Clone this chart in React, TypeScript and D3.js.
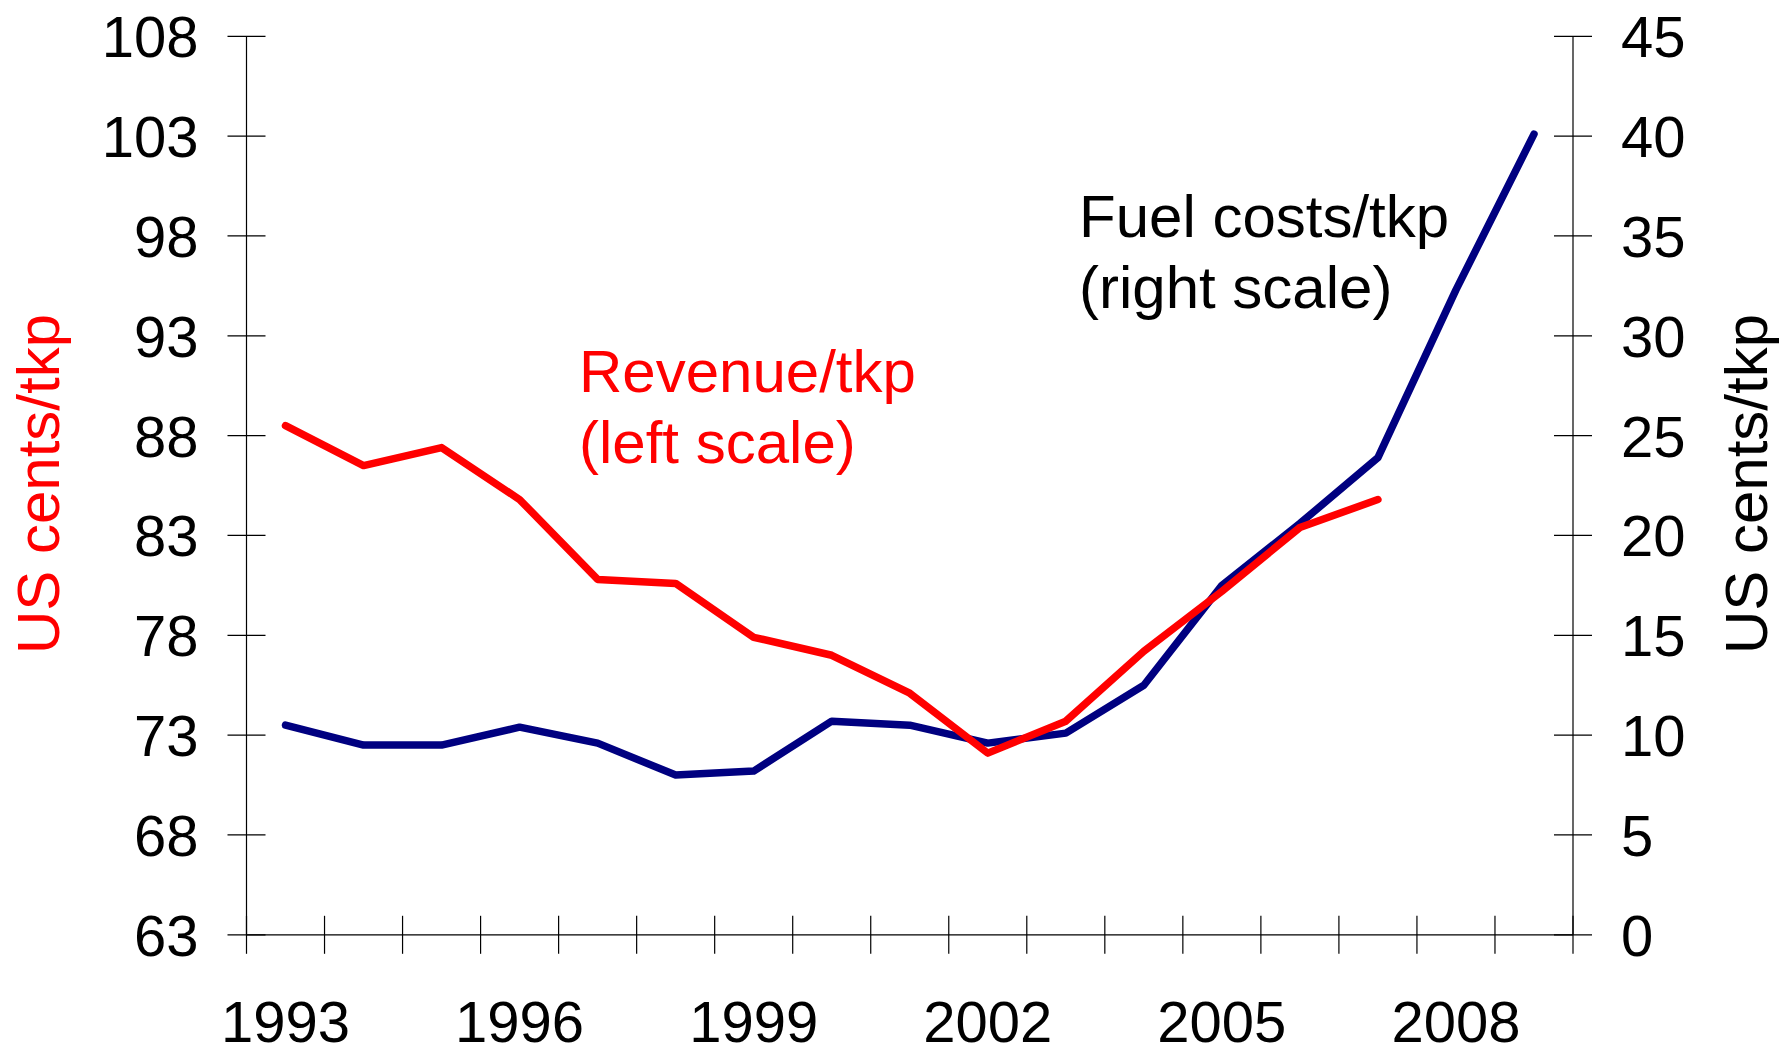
import { useRef, useEffect } from "react";
import * as d3 from "d3";

const years = [
  "1993", "1994", "1995", "1996", "1997", "1998", "1999", "2000", "2001",
  "2002", "2003", "2004", "2005", "2006", "2007", "2008", "2009",
];
const yearLabels = ["1993", "1996", "1999", "2002", "2005", "2008"];

// revenue per tkp, US cents (left scale), 1993-2007
const revenue = [
  88.5, 86.5, 87.4, 84.8, 80.8, 80.6, 77.9, 77.0, 75.1, 72.1, 73.7, 77.2,
  80.2, 83.4, 84.8,
];
// fuel costs per tkp, US cents (right scale), 1993-2009
const fuelCosts = [
  10.5, 9.5, 9.5, 10.4, 9.6, 8.0, 8.2, 10.7, 10.5, 9.6, 10.1, 12.5, 17.5,
  20.6, 23.9, 32.3, 40.1,
];

const leftTicks = [63, 68, 73, 78, 83, 88, 93, 98, 103, 108];
const rightTicks = [0, 5, 10, 15, 20, 25, 30, 35, 40, 45];

const WIDTH = 1781;
const HEIGHT = 1048;
const FONT = "'Liberation Sans', Arial, sans-serif";

const App = () => {
  const svgRef = useRef<SVGSVGElement>(null);

  useEffect(() => {
    document.body.style.margin = "0";

    const svg = d3.select(svgRef.current);
    svg.selectAll("*").remove();

    const left = 246.5;
    const right = 1573;
    const top = 36.3;
    const bottom = 934.8;
    const tick = 19;

    const x = d3.scaleBand().domain(years).range([left, right]).padding(0);
    const yLeft = d3.scaleLinear().domain([63, 108]).range([bottom, top]);
    const yRight = d3.scaleLinear().domain([0, 45]).range([bottom, top]);
    const cx = (d) => x(d) + x.bandwidth() / 2;

    const axes = svg.append("g").attr("stroke", "#000").attr("stroke-width", 1.2);

    // left axis
    axes.append("line").attr("x1", left).attr("x2", left).attr("y1", top).attr("y2", bottom);
    axes
      .selectAll(".tick-l")
      .data(leftTicks)
      .enter()
      .append("line")
      .attr("x1", left - tick)
      .attr("x2", left + tick)
      .attr("y1", (d) => yLeft(d))
      .attr("y2", (d) => yLeft(d));

    // right axis
    axes.append("line").attr("x1", right).attr("x2", right).attr("y1", top).attr("y2", bottom);
    axes
      .selectAll(".tick-r")
      .data(rightTicks)
      .enter()
      .append("line")
      .attr("x1", right - tick)
      .attr("x2", right + tick)
      .attr("y1", (d) => yRight(d))
      .attr("y2", (d) => yRight(d));

    // x axis, ticks on the band edges
    axes.append("line").attr("x1", left).attr("x2", right).attr("y1", bottom).attr("y2", bottom);
    const edges = years.map((d) => x(d)).concat([x.range()[1]]);
    axes
      .selectAll(".tick-x")
      .data(edges)
      .enter()
      .append("line")
      .attr("x1", (d) => d)
      .attr("x2", (d) => d)
      .attr("y1", bottom - tick)
      .attr("y2", bottom + tick);

    const labels = svg.append("g").style("font-family", FONT).style("font-size", "58px").attr("fill", "#000");

    labels
      .selectAll(".lab-l")
      .data(leftTicks)
      .enter()
      .append("text")
      .attr("x", left - tick - 29)
      .attr("y", (d) => yLeft(d))
      .attr("dy", "0.36em")
      .attr("text-anchor", "end")
      .text((d) => d);

    labels
      .selectAll(".lab-r")
      .data(rightTicks)
      .enter()
      .append("text")
      .attr("x", right + tick + 29)
      .attr("y", (d) => yRight(d))
      .attr("dy", "0.36em")
      .attr("text-anchor", "start")
      .text((d) => d);

    labels
      .selectAll(".lab-x")
      .data(yearLabels)
      .enter()
      .append("text")
      .attr("x", (d) => cx(d))
      .attr("y", 1042)
      .attr("text-anchor", "middle")
      .text((d) => d);

    // axis titles
    svg
      .append("text")
      .attr("transform", `translate(59,484) rotate(-90)`)
      .attr("text-anchor", "middle")
      .style("font-family", FONT)
      .style("font-size", "60px")
      .attr("fill", "#ff0000")
      .text("US cents/tkp");

    svg
      .append("text")
      .attr("transform", `translate(1767,484) rotate(-90)`)
      .attr("text-anchor", "middle")
      .style("font-family", FONT)
      .style("font-size", "60px")
      .attr("fill", "#000")
      .text("US cents/tkp");

    // series
    const revLine = d3
      .line<number>()
      .x((d, i) => cx(years[i]))
      .y((d) => yLeft(d));
    const fuelLine = d3
      .line<number>()
      .x((d, i) => cx(years[i]))
      .y((d) => yRight(d));

    svg
      .append("path")
      .datum(fuelCosts)
      .attr("fill", "none")
      .attr("stroke", "#000080")
      .attr("stroke-width", 7.5)
      .attr("stroke-linejoin", "round")
      .attr("stroke-linecap", "round")
      .attr("d", fuelLine);

    svg
      .append("path")
      .datum(revenue)
      .attr("fill", "none")
      .attr("stroke", "#ff0000")
      .attr("stroke-width", 7.5)
      .attr("stroke-linejoin", "round")
      .attr("stroke-linecap", "round")
      .attr("d", revLine);

    // annotations
    const note = svg.append("g").style("font-family", FONT).style("font-size", "60px");
    const rev = note.append("text").attr("fill", "#ff0000");
    rev.append("tspan").attr("x", 579).attr("y", 392).text("Revenue/tkp");
    rev.append("tspan").attr("x", 579).attr("y", 463).text("(left scale)");
    const fuel = note.append("text").attr("fill", "#000");
    fuel.append("tspan").attr("x", 1079).attr("y", 237).text("Fuel costs/tkp");
    fuel.append("tspan").attr("x", 1079).attr("y", 308).text("(right scale)");
  }, []);

  return <svg ref={svgRef} width={WIDTH} height={HEIGHT} style={{ display: "block" }}></svg>;
};

export default App;
